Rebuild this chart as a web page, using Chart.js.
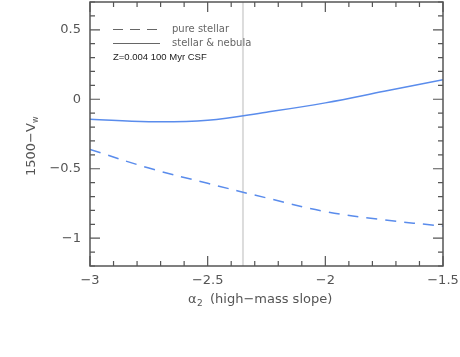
<!DOCTYPE html>
<html>
<head>
<meta charset="utf-8">
<script src="https://cdn.jsdelivr.net/npm/chart.js@4"></script>
<style>
  html, body { margin: 0; padding: 0; background: #fff; }
  #wrap { width: 460px; height: 357px; }
</style>
</head>
<body>
<div id="wrap"><canvas id="chart" width="460" height="357"></canvas></div>
<script>
// data
const slopes = [-3, -2.75, -2.5, -2.25, -2, -1.75, -1.5];
const pureStellar = [-0.361, -0.495, -0.605, -0.71, -0.808, -0.868, -0.913];
const stellarNebula = [-0.143, -0.162, -0.151, -0.093, -0.026, 0.057, 0.141];
const salpeter = -2.35;
const xTicks = [-3, -2.5, -2, -1.5];
const yTicks = [-1, -0.5, 0, 0.5];
const xRange = [-3, -1.5];
const yRange = [-1.2, 0.7];

const blue = '#5a8cec';
const axisGray = '#555';

function fmt(v) {
    return String(v).replace('-', '\u2212');
}

function toPoints(ys) {
    return slopes.map((x, i) => ({ x: x, y: ys[i] }));
}

// frame, inward ticks, legend and axis titles
const decor = {
    id: 'decor',
    afterDraw(chart) {
        const c = chart.ctx;
        const a = chart.chartArea;
        const xs = chart.scales.x;
        const ys = chart.scales.y;
        c.save();
        c.strokeStyle = axisGray;
        c.lineWidth = 1.5;
        c.strokeRect(a.left, a.top, a.right - a.left, a.bottom - a.top);

        c.lineWidth = 1.2;
        c.beginPath();
        for (let i = 0; i <= 15; i++) {
            const v = xRange[0] + i * 0.1;
            const px = xs.getPixelForValue(v);
            const len = (i % 5 === 0) ? 10 : 5;
            c.moveTo(px, a.bottom); c.lineTo(px, a.bottom - len);
            c.moveTo(px, a.top); c.lineTo(px, a.top + len);
        }
        for (let i = -12; i <= 7; i++) {
            const v = i * 0.1;
            const py = ys.getPixelForValue(v);
            const len = (i % 5 === 0) ? 10 : 5;
            c.moveTo(a.left, py); c.lineTo(a.left + len, py);
            c.moveTo(a.right, py); c.lineTo(a.right - len, py);
        }
        c.stroke();

        // legend
        c.strokeStyle = '#666';
        c.lineWidth = 1;
        c.setLineDash([10, 7]);
        c.beginPath(); c.moveTo(113, 29.5); c.lineTo(161, 29.5); c.stroke();
        c.setLineDash([]);
        c.beginPath(); c.moveTo(113, 43.5); c.lineTo(160, 43.5); c.stroke();
        c.fillStyle = '#666';
        c.font = '10px "DejaVu Sans"';
        c.textBaseline = 'middle';
        c.fillText('pure stellar', 172, 29);
        c.fillText('stellar & nebula', 172, 43);
        c.fillStyle = '#222';
        c.font = '9.5px "Liberation Sans"';
        c.fillText('Z=0.004 100 Myr CSF', 113, 57);

        // x title
        c.fillStyle = axisGray;
        c.font = '13px "DejaVu Sans"';
        c.textBaseline = 'alphabetic';
        c.fillText('\u03b1', 188, 303);
        c.font = '9px "DejaVu Sans"';
        c.fillText('2', 197, 306);
        c.font = '13px "DejaVu Sans"';
        c.fillText('(high\u2212mass slope)', 210, 303);

        // y title
        c.translate(35, 176);
        c.rotate(-Math.PI / 2);
        c.font = '13px "DejaVu Sans"';
        c.fillText('1500\u2212V', 0, 0);
        c.font = '8px "DejaVu Sans"';
        c.fillText('w', 53, 3);
        c.restore();
    }
};

const ctx = document.getElementById('chart').getContext('2d');
const chart = new Chart(ctx, {
    type: 'line',
    data: {
        datasets: [
            {
                label: 'Salpeter',
                data: [{ x: salpeter, y: yRange[0] }, { x: salpeter, y: yRange[1] }],
                borderColor: '#dcdcdc',
                borderWidth: 2,
                pointRadius: 0,
                order: 3,
            },
            {
                label: 'pure stellar',
                data: toPoints(pureStellar),
                borderColor: blue,
                borderWidth: 1.5,
                borderDash: [11, 8],
                pointRadius: 0,
                tension: 0.4,
                order: 2,
            },
            {
                label: 'stellar & nebula',
                data: toPoints(stellarNebula),
                borderColor: blue,
                borderWidth: 1.5,
                pointRadius: 0,
                tension: 0.4,
                order: 1,
            },
        ],
    },
    options: {
        responsive: false,
        animation: false,
        layout: { padding: { top: 2, right: 17, left: 0, bottom: 0 } },
        plugins: {
            legend: { display: false },
            tooltip: { enabled: false },
        },
        scales: {
            x: {
                type: 'linear',
                min: xRange[0],
                max: xRange[1],
                afterBuildTicks: s => { s.ticks = xTicks.map(v => ({ value: v })); },
                afterFit: s => { s.height = 91; s.paddingLeft = 0; s.paddingRight = 0; },
                grid: { display: false, drawTicks: false },
                border: { display: false },
                ticks: {
                    color: axisGray,
                    font: { family: 'DejaVu Sans', size: 13 },
                    padding: 7,
                    maxRotation: 0,
                    callback: v => fmt(v),
                },
            },
            y: {
                type: 'linear',
                min: yRange[0],
                max: yRange[1],
                afterBuildTicks: s => { s.ticks = yTicks.map(v => ({ value: v })); },
                afterFit: s => { s.width = 90; s.paddingTop = 0; s.paddingBottom = 0; },
                grid: { display: false, drawTicks: false },
                border: { display: false },
                ticks: {
                    color: axisGray,
                    font: { family: 'DejaVu Sans', size: 13 },
                    padding: 9,
                    callback: v => fmt(v),
                },
            },
        },
    },
    plugins: [decor],
});
</script>
</body>
</html>
